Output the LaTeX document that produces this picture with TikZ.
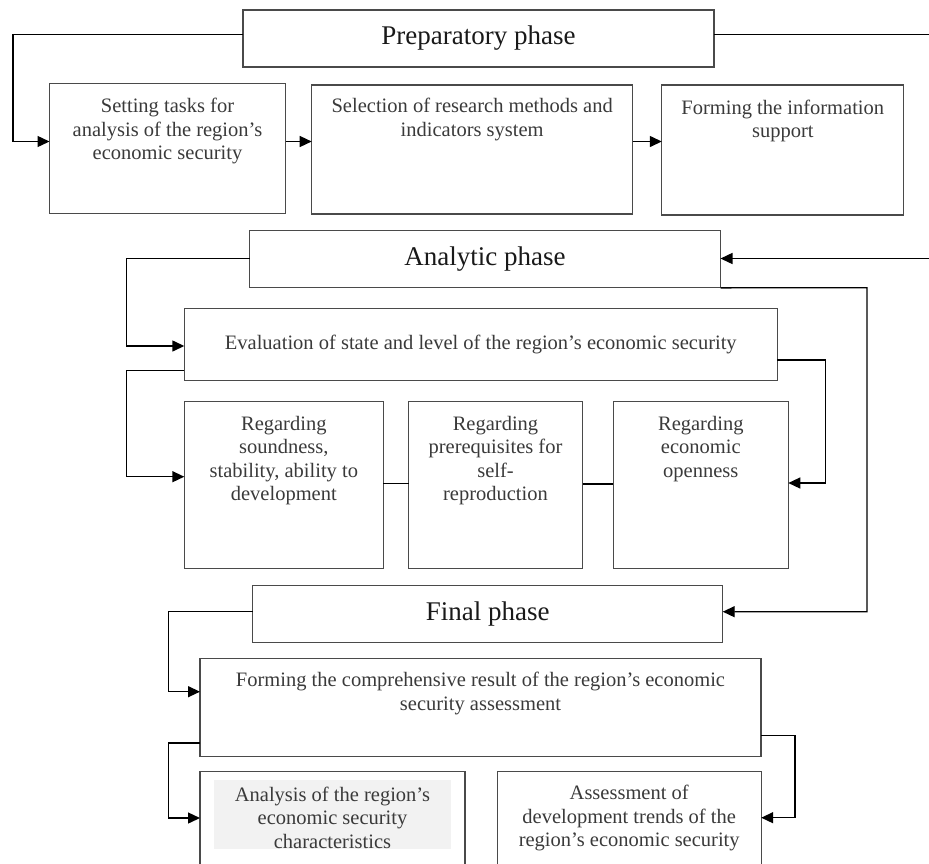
\documentclass[tikz,border=0pt]{standalone}
\usepackage{fontspec}
\setmainfont{Liberation Serif}
\usetikzlibrary{arrows.meta}
\definecolor{boxgray}{HTML}{4A4A4A}
\definecolor{txtgray}{HTML}{3A3A3A}
\definecolor{shade}{HTML}{F2F2F2}
\newcommand\diabody{\fontsize{20.5}{23.5}\selectfont}
\newcommand\diatitle{\fontsize{27}{31}\selectfont}
\tikzset{
  box/.style={draw=boxgray, line width=1.2pt, inner sep=0pt, outer sep=0pt, rectangle},
  txt/.style={text=txtgray, font=\diabody, align=center, inner sep=0pt, anchor=north},
  ctxt/.style={text=txtgray, font=\diabody, align=center, inner sep=0pt},
  title/.style={text=black!90, font=\diatitle, inner sep=0pt},
  link/.style={draw=black, line width=1.4pt},
  arr/.style={link, -{Triangle[length=12pt,width=11pt]}},
}
\begin{document}
\begin{tikzpicture}[x=1pt, y=-1pt]
\useasboundingbox (0,0) rectangle (929,863);
\clip (0,0) rectangle (929,863);

% ---- Preparatory phase ----
\node[box, minimum width=471, minimum height=57] (prep) at (478.5,38.5) {};
\node[title] (prept) at (prep.center) {Preparatory phase};
\node[box, minimum width=236, minimum height=130] (b1) at (167.5,148.3) {};
\node[box, minimum width=321, minimum height=129] (b2) at (472.2,149.5) {};
\node[box, minimum width=242, minimum height=130] (b3) at (782.8,150) {};
\node[txt] (b1t) at (b1.north |- 0,98) {Setting tasks for\\analysis of the region’s\\economic security};
\node[txt] (b2t) at (b2.north |- 0,98) {Selection of research methods and\\indicators system};
\node[txt] (b3t) at (b3.north |- 0,99.5) {Forming the information\\support};

\coordinate (prepout) at (929,34.5);
\draw[arr] (prep.west |- 0,34.5) -- (13,34.5) |- (b1.west |- 0,141.5);
\draw[link] (prep.east |- 0,34.5) -- (prepout);
\draw[arr] (b1.east |- 0,141.5) -- (b2.west |- 0,141.5);
\draw[arr] (b2.east |- 0,141.5) -- (b3.west |- 0,141.5);

% ---- Analytic phase ----
\node[box, minimum width=471, minimum height=57] (anal) at (485,259.3) {};
\node[title] (analt) at (anal.center) {Analytic phase};
\node[box, minimum width=593, minimum height=72] (eval) at (480.8,344.2) {};
\node[ctxt] (evalt) at (eval.center) {Evaluation of state and level of the region’s economic security};
\node[box, minimum width=199, minimum height=167] (r1) at (283.8,485) {};
\node[box, minimum width=174, minimum height=167] (r2) at (495.5,485) {};
\node[box, minimum width=175, minimum height=167] (r3) at (700.8,485) {};
\node[txt] (r1t) at (r1.north |- 0,416) {Regarding\\soundness,\\stability, ability to\\development};
\node[txt] (r2t) at (r2.north |- 0,416) {Regarding\\prerequisites for\\self-\\reproduction};
\node[txt] (r3t) at (r3.north |- 0,416) {Regarding\\economic\\openness};

\coordinate (analin) at (929,258.5);
\draw[arr] (analin) -- (anal.east |- 0,258.5);
\draw[arr] (anal.west |- 0,258.5) -- (126.7,258.5) |- (eval.west |- 0,346);
\draw[arr] (eval.west |- 0,370.7) -- (126.7,370.7) |- (r1.west |- 0,476.7);
\draw[arr] (eval.east |- 0,360) -- (825.7,360) |- (r3.east |- 0,483);
\draw[link] (r1.east |- 0,483.5) -- (r2.west |- 0,483.5);
\draw[link] (r2.east |- 0,484) -- (r3.west |- 0,484);

% ---- Final phase ----
\node[box, minimum width=470, minimum height=57] (fin) at (487.7,613.9) {};
\node[title] (fint) at (fin.center) {Final phase};
\node[box, minimum width=561, minimum height=98] (form) at (480.5,707.8) {};
\node[txt] (formt) at (form.north |- 0,672) {Forming the comprehensive result of the region’s economic\\security assessment};
\node[box, minimum width=265, minimum height=130] (a1) at (332.5,836.7) {};
\node[box, minimum width=264, minimum height=130] (a2) at (629.2,836.7) {};
\node[fill=shade, inner sep=0pt, minimum width=237, minimum height=69] (a1shade) at (332.5,814.5) {};
\node[txt] (a1t) at (a1.north |- 0,786.5) {Analysis of the region’s\\economic security\\characteristics};
\node[txt] (a2t) at (a2.north |- 0,785) {Assessment of\\development trends of the\\region’s economic security};

\draw[arr] (anal.south east) -- (867,287.7) |- (fin.east |- 0,611.7);
\draw[arr] (fin.west |- 0,611.7) -- (168.3,611.7) |- (form.west |- 0,691.7);
\draw[arr] (form.west |- 0,743) -- (168.3,743) |- (a1.west |- 0,818);
\draw[arr] (form.east |- 0,735.7) -- (795,735.7) |- (a2.east |- 0,817.7);
\end{tikzpicture}
\end{document}
